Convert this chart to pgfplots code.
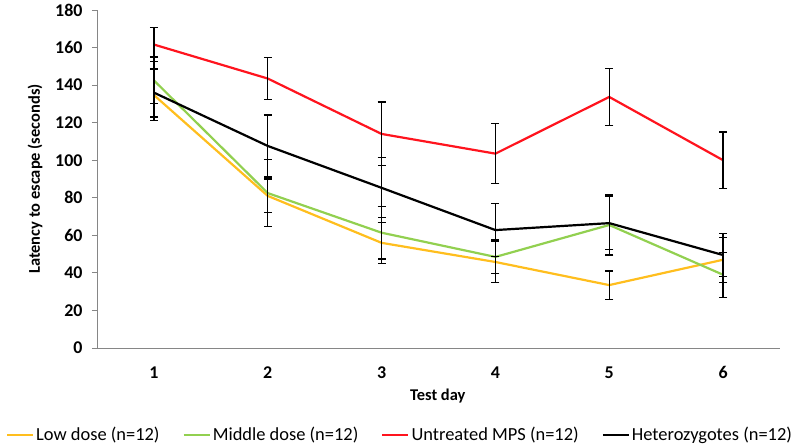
\documentclass[border=0pt]{standalone}
\usepackage{pgfplots}
\pgfplotsset{compat=1.18}
\usepackage{fontspec}
\setmainfont{Carlito}
\definecolor{lowc}{RGB}{255,190,30}
\definecolor{midc}{RGB}{146,208,80}
\definecolor{untc}{RGB}{255,20,30}
\definecolor{axc}{RGB}{134,134,134}
\begin{document}
\begin{tikzpicture}
\begin{axis}[
  at={(97bp,99bp)}, anchor=south west,
  scale only axis, width=683bp, height=338bp,
  xmin=0.5, xmax=6.5, ymin=0, ymax=180,
  separate axis lines,
  axis x line*=bottom, axis y line*=left,
  x axis line style={-, draw=axc, line width=0.8pt},
  y axis line style={-, draw=axc, line width=0.8pt},
  xtick={1,2,3,4,5,6},
  major x tick style={draw=none},
  extra x ticks={0.5,1.5,2.5,3.5,4.5,5.5,6.5},
  extra x tick labels={},
  extra x tick style={tick align=outside, major tick length=5bp, tick style={draw=axc, line width=0.8pt}},
  ytick={0,20,...,180},
  tick align=outside, major tick length=5bp,
  y tick style={draw=axc, line width=0.8pt},
  /pgf/number format/assume math mode=true,
  ticklabel style={font=\fontsize{18}{21}\selectfont\bfseries},
  xticklabel style={yshift=-10bp},
  yticklabel style={xshift=-6bp},
  xlabel={Test day},
  ylabel={Latency to escape (seconds)},
  label style={font=\fontsize{16.5}{19}\selectfont\bfseries},
  xlabel style={at={(axis description cs:0.499,-0.142)}, anchor=center},
  ylabel style={at={(axis description cs:-0.0908,0.5)}, anchor=center},
  legend columns=4,
  legend style={at={(axis description cs:0.4436,-0.257)}, anchor=center, draw=none, fill=none,
    font=\fontsize{18.5}{21}\selectfont, inner sep=0pt,
    /tikz/every even column/.append style={column sep=21bp}},
  legend image code/.code={\draw[#1, line width=2.2bp] (0bp,0bp) -- (26bp,0bp);},
  every axis plot/.append style={line width=2.2bp, mark=none},
  error bars/y dir=both, error bars/y explicit,
  error bars/error bar style={black, line width=1.2bp, solid},
  error bars/error mark options={rotate=90, mark size=4bp, black, line width=1.2bp},
]
\addplot[lowc] coordinates {(1,134.7) +- (0,13.7) (2,81) +- (0,9) (3,56) +- (0,11) (4,45.8) +- (0,11) (5,33.5) +- (0,7.5) (6,47) +- (0,12)};
\addlegendentry{Low dose (n=12)}
\addplot[midc] coordinates {(1,142.5) +- (0,12.5) (2,82.5) +- (0,18) (3,61.4) +- (0,14) (4,48.5) +- (0,9) (5,65.5) +- (0,16) (6,39) +- (0,12)};
\addlegendentry{Middle dose (n=12)}
\addplot[untc] coordinates {(1,161.6) +- (0,9.1) (2,143.5) +- (0,11) (3,114) +- (0,17) (4,103.5) +- (0,16) (5,133.7) +- (0,15) (6,100) +- (0,15)};
\addlegendentry{Untreated MPS (n=12)}
\addplot[black] coordinates {(1,136) +- (0,13) (2,107.6) +- (0,16.5) (3,85.3) +- (0,16) (4,62.8) +- (0,14) (5,66.5) +- (0,14) (6,49.5) +- (0,11.5)};
\addlegendentry{Heterozygotes (n=12)}
\end{axis}
\pgfresetboundingbox
\path (0,0) rectangle (800bp,447bp);
\end{tikzpicture}
\end{document}
